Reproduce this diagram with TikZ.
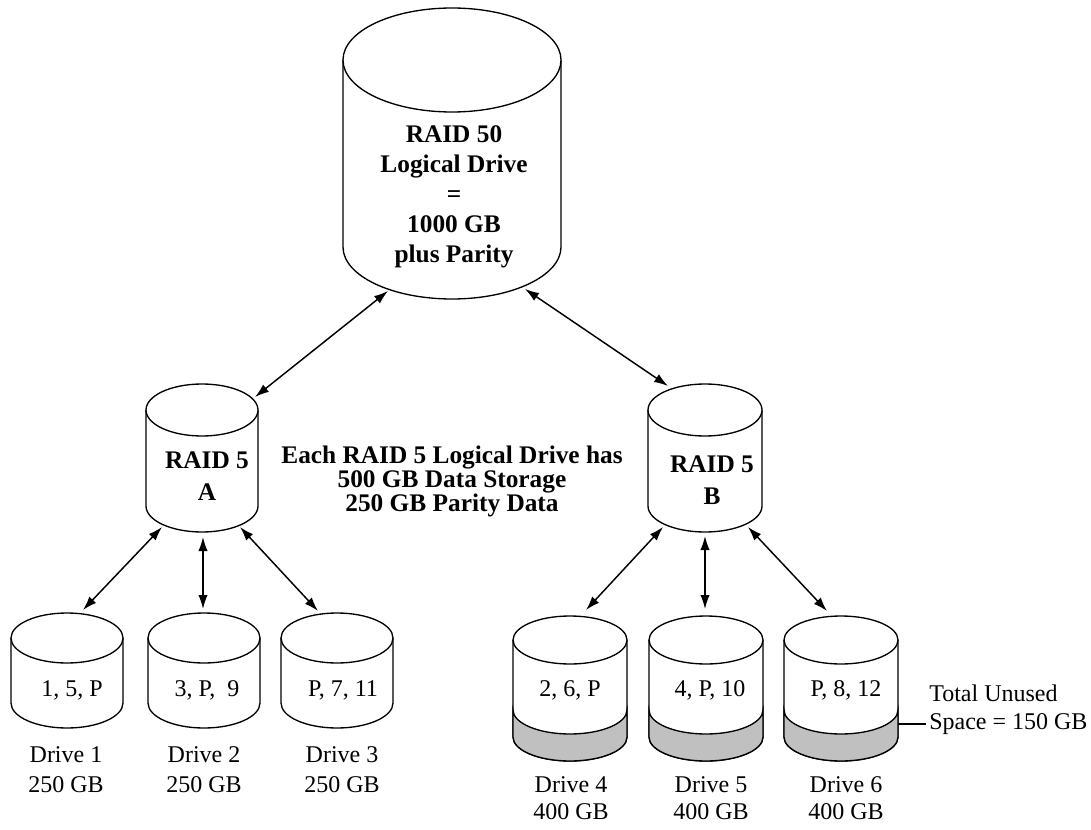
\documentclass[tikz,border=0pt]{standalone}
\usepackage{fontspec}
\setmainfont{Liberation Serif}
\usetikzlibrary{arrows.meta}
\definecolor{cLine}  {RGB}{0,0,0}
\definecolor{cUnused}{RGB}{192,192,192}
\definecolor{cText}  {RGB}{0,0,0}
% cylinder: body + top ellipse
% #1 cx, #2 y top ellipse, #3 y bottom ellipse, #4 rx, #5 ry
\newcommand{\drawDisk}[5]{%
  \fill[white] (#1-#4,#2) -- (#1-#4,#3)
    arc[start angle=180,end angle=0,x radius=#4,y radius=#5] -- (#1+#4,#2) -- cycle;
  \draw[disk] (#1-#4,#2) -- (#1-#4,#3)
    arc[start angle=180,end angle=0,x radius=#4,y radius=#5] -- (#1+#4,#2);
  \draw[disk,fill=white] (#1,#2) ellipse[x radius=#4,y radius=#5];
}
% grey band of unused space
% #1 cx, #2 y band, #3 y bottom, #4 rx, #5 ry
\newcommand{\drawUnused}[5]{%
  \draw[disk,fill=cUnused] (#1-#4,#2)
    arc[start angle=180,end angle=0,x radius=#4,y radius=#5] -- (#1+#4,#3)
    arc[start angle=0,end angle=180,x radius=#4,y radius=#5] -- cycle;
}

\begin{document}
\begin{tikzpicture}[x=0.75pt,y=-0.75pt,
  disk/.style={draw=cLine,line width=1pt},
  link/.style={{Latex[length=10.5pt,width=7pt]}-{Latex[length=10.5pt,width=7pt]},line width=1.1pt},
  bold/.style={font=\fontsize{19}{22.5}\selectfont\bfseries,text=cText,align=center},
  plain/.style={font=\fontsize{18}{22.5}\selectfont,text=cText,align=center},
  label/.style={plain,inner sep=0pt}]

\useasboundingbox (0,0) rectangle (1091,830);

% =================== RAID 50 ===================
\drawDisk{452}{60}{247}{109}{52}
\node[bold] (raid50) at (454,197)
  {RAID 50\\Logical Drive\\=\\1000 GB\\plus Parity};

% =================== RAID 5 A / B ===================
\drawDisk{202}{410}{506}{56}{26}
\drawDisk{705}{410}{506}{57}{26}
\node[bold,font=\fontsize{19}{24}\selectfont\bfseries] (raidA) at (207,476) {RAID 5\\A};
\node[bold,font=\fontsize{19}{24}\selectfont\bfseries] (raidB) at (712,480) {RAID 5\\B};

\node[bold,font=\fontsize{19}{18}\selectfont\bfseries] (info) at (452,481)
  {Each RAID 5 Logical Drive has\\500 GB Data Storage\\250 GB Parity Data};

% =================== 250 GB drives ===================
\drawDisk{67}{638}{703}{56}{25}
\drawDisk{204}{638}{703}{56}{25}
\drawDisk{337}{638}{703}{56}{25}
\node[plain] (d1) at (72,690)  {1, 5, P};
\node[plain] (d2) at (207,690) {3, P,\ \ 9};
\node[plain] (d3) at (343,690) {P, 7, 11};
\node[label] (d1lbl) at (66,770)  {Drive 1\\250 GB};
\node[label] (d2lbl) at (204,770) {Drive 2\\250 GB};
\node[label] (d3lbl) at (342,770) {Drive 3\\250 GB};

% =================== 400 GB drives ===================
\drawDisk{570}{640}{737}{57}{24}
\drawDisk{706}{640}{737}{57}{24}
\drawDisk{841}{640}{737}{57}{24}
\drawUnused{570}{710}{737}{57}{24}
\drawUnused{706}{710}{737}{57}{24}
\drawUnused{841}{710}{737}{57}{24}
\node[plain] (d4) at (570,690) {2, 6, P};
\node[plain] (d5) at (710,690) {4, P, 10};
\node[plain] (d6) at (846,690) {P, 8, 12};
\node[label,font=\fontsize{18}{20.5}\selectfont] (d4lbl) at (571,798) {Drive 4\\400 GB};
\node[label,font=\fontsize{18}{20.5}\selectfont] (d5lbl) at (711,798) {Drive 5\\400 GB};
\node[label,font=\fontsize{18}{20.5}\selectfont] (d6lbl) at (846,798) {Drive 6\\400 GB};

% unused space note
\node[label,align=left,anchor=west,font=\fontsize{18}{21}\selectfont]
  (unused) at (929,710) {Total Unused\\Space = 150 GB};
\coordinate (d6band) at (898,724);
\coordinate (unusedTip) at (926,724);
\draw[line width=1pt] (d6band) -- (unusedTip);

% =================== arrows ===================
\coordinate (r50sw) at (388,291);  \coordinate (aTop) at (255,397);
\coordinate (r50se) at (525,289);  \coordinate (bTop) at (668,386);
\coordinate (aSW) at (162,527);    \coordinate (d1Top) at (83,610);
\coordinate (aS)  at (203,537);    \coordinate (d2Top) at (203,609);
\coordinate (aSE) at (240,527);    \coordinate (d3Top) at (318,611);
\coordinate (bSW) at (663,527);    \coordinate (d4Top) at (586,610);
\coordinate (bS)  at (705,536);    \coordinate (d5Top) at (705,609);
\coordinate (bSE) at (748,527);    \coordinate (d6Top) at (827,611);

\draw[link] (r50sw) -- (aTop);
\draw[link] (r50se) -- (bTop);
\draw[link] (aSW) -- (d1Top);
\draw[link] (aS) -- (d2Top);
\draw[link] (aSE) -- (d3Top);
\draw[link] (bSW) -- (d4Top);
\draw[link] (bS) -- (d5Top);
\draw[link] (bSE) -- (d6Top);

\end{tikzpicture}
\end{document}
